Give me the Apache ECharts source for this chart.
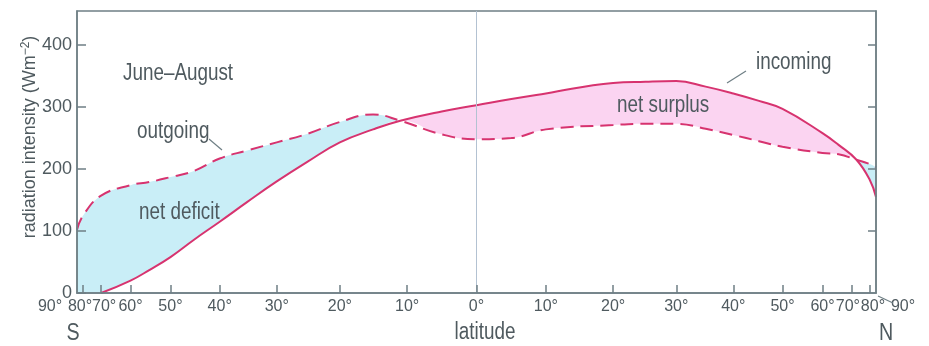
<!DOCTYPE html>
<html>
<head>
<meta charset="utf-8">
<script src="https://cdn.jsdelivr.net/npm/echarts@6/dist/echarts.min.js"></script>
<style>
  html, body { margin: 0; padding: 0; background: #ffffff; }
  #chart { width: 929px; height: 346px; }
</style>
</head>
<body>
<div id="chart"></div>
<script>
// Latitudes (degrees; negative = south) at which the two radiation curves are given
const latitudes = [-90, -80, -70, -60, -55, -50, -45, -40, -35, -30, -25, -20, -15, -11, -5, 0, 5, 10, 20, 25, 30, 35, 40, 45, 50, 60, 65, 72, 80, 90];
// Absorbed solar radiation, W m^-2 (none reaches the polar night south of 70°S)
const incoming = [null, null, 0, 20, 37, 58, 86, 115, 147, 180, 212, 243, 264, 278, 293, 303, 313, 322, 339, 341, 342, 333, 322, 310, 297, 258, 239, 215, 182, 155];
// Outgoing long-wave radiation, W m^-2
const outgoing = [102, 125, 157, 174, 179, 187, 197, 217, 230, 243, 257, 276, 288, 278, 256, 248, 250, 264, 271, 273, 273, 265, 255, 245, 236, 226, 224, 215, 208, 203];
// Tick labels along the latitude axis
const tickLatitudes = [-90, -80, -70, -60, -50, -40, -30, -20, -10, 0, 10, 20, 30, 40, 50, 60, 70, 80, 90];
const radiationTicks = [0, 100, 200, 300, 400];

const LINE = '#d7336f';
const DEFICIT = '#c9eef7';
const SURPLUS = '#fbd4f1';
const AXIS = '#6f7f85';
const TEXT = '#4f5a5f';
const SANS = '"Liberation Sans", Arial, sans-serif';
const SMOOTH = 0.45;

// The latitude axis is area-weighted: position = sin(latitude)
const toX = lat => Math.sin(lat * Math.PI / 180);
const toLat = x => Math.round(Math.asin(Math.max(-1, Math.min(1, x))) * 180 / Math.PI);

// Horizontal nudges for crowded labels near the poles (px)
const labelNudge = { '-90': -27, '-80': -3, '-70': 3, '70': -4, '80': 3, '90': 27 };

const incomingLine = latitudes.map((lat, i) => [toX(lat), incoming[i]]);
const outgoingLine = latitudes.map((lat, i) => [toX(lat), outgoing[i]]);
// Lower of the two curves: everything beneath it is neither deficit nor surplus
const lowerLine = latitudes.map((lat, i) => [toX(lat), incoming[i] == null ? null : Math.min(incoming[i], outgoing[i])]);

const richLabels = {};
Object.keys(labelNudge).forEach(k => {
  const d = labelNudge[k];
  richLabels['n' + k.replace('-', 'm')] = {
    fontFamily: SANS, fontSize: 16, color: TEXT,
    padding: d < 0 ? [0, -2 * d, 0, 0] : [0, 0, 0, 2 * d]
  };
});

const chart = echarts.init(document.getElementById('chart'), null, { renderer: 'canvas' });

const fillCommon = {
  type: 'line', smooth: SMOOTH, symbol: 'none', silent: true, z: 1,
  connectNulls: false, lineStyle: { width: 0, opacity: 0 }
};

chart.setOption({
  animation: false,
  grid: {
    left: 77, right: 53, top: 11, bottom: 53, z: 5,
    show: true, borderColor: AXIS, borderWidth: 1.5, backgroundColor: 'transparent',
    outerBoundsMode: 'none'
  },
  xAxis: {
    type: 'value', min: -1, max: 1, z: 5,
    axisLine: { show: true, onZero: false, lineStyle: { color: AXIS, width: 1.5 } },
    axisTick: {
      show: true, inside: true, length: 8,
      customValues: tickLatitudes.filter(l => Math.abs(l) < 90).map(toX),
      lineStyle: { color: AXIS, width: 1.5 }
    },
    axisLabel: {
      show: true, margin: 6,
      customValues: tickLatitudes.map(toX),
      fontFamily: SANS, fontSize: 16, color: TEXT,
      formatter: v => {
        const lat = toLat(v);
        const txt = Math.abs(lat) + '°';
        const key = String(lat);
        return labelNudge[key] !== undefined ? '{n' + key.replace('-', 'm') + '|' + txt + '}' : txt;
      },
      rich: richLabels
    },
    splitLine: { show: false }
  },
  yAxis: [{
    type: 'value', min: 0, max: 455, position: 'left', z: 5,
    axisLine: { show: true, onZero: false, lineStyle: { color: AXIS, width: 1.5 } },
    axisTick: { show: true, inside: true, length: 9, customValues: radiationTicks, lineStyle: { color: AXIS, width: 1.5 } },
    axisLabel: { show: true, margin: 5, customValues: radiationTicks, fontFamily: SANS, fontSize: 18, color: TEXT },
    splitLine: { show: false }
  }, {
    type: 'value', min: 0, max: 455, position: 'right', z: 5,
    axisLine: { show: true, onZero: false, lineStyle: { color: AXIS, width: 1.5 } },
    axisTick: { show: true, inside: true, length: 8, customValues: radiationTicks.slice(1), lineStyle: { color: AXIS, width: 1.5 } },
    axisLabel: { show: false },
    splitLine: { show: false }
  }],
  series: [
    // Layered fills: blue under outgoing, pink under incoming, white under the lower curve
    Object.assign({ name: 'net deficit', data: outgoingLine, areaStyle: { color: DEFICIT, opacity: 1 } }, fillCommon),
    Object.assign({ name: 'net surplus', data: incomingLine, areaStyle: { color: SURPLUS, opacity: 1 } }, fillCommon),
    Object.assign({ name: 'lower', data: lowerLine, areaStyle: { color: '#ffffff', opacity: 1 } }, fillCommon),
    {
      name: 'incoming', type: 'line', data: incomingLine, smooth: SMOOTH, symbol: 'none',
      connectNulls: false, z: 3,
      lineStyle: { color: LINE, width: 2 }
    },
    {
      name: 'outgoing', type: 'line', data: outgoingLine, smooth: SMOOTH, symbol: 'none', z: 3,
      lineStyle: { color: LINE, width: 2, type: [13, 7] },
      markLine: {
        silent: true, symbol: ['none', 'none'], label: { show: false },
        lineStyle: { color: '#b3c2d2', width: 1, type: 'solid' },
        data: [{ xAxis: 0 }]
      }
    }
  ]
});

// Annotations, axis captions and leader lines (condensed lettering)
const txt = (text, x, y, size, align) => ({
  type: 'text', x: x, y: y, scaleX: 0.82, silent: true, z: 10,
  style: {
    text: text, fill: TEXT, font: size + 'px ' + SANS,
    align: align, verticalAlign: 'middle', textAlign: align, textVerticalAlign: 'middle'
  }
});
const seg = (x1, y1, x2, y2) => ({
  type: 'line', silent: true, z: 10,
  shape: { x1: x1, y1: y1, x2: x2, y2: y2 },
  style: { stroke: AXIS, lineWidth: 1.2 }
});

const poleN = chart.convertToPixel({ xAxisIndex: 0, yAxisIndex: 0 }, [1, 0]);

chart.setOption({
  graphic: [
    txt('June–August', 123, 74, 23, 'left'),
    txt('outgoing', 137, 132, 23, 'left'),
    seg(209, 139, 222, 150),
    txt('net deficit', 139, 213, 23, 'left'),
    txt('net surplus', 617, 106, 23, 'left'),
    txt('incoming', 756, 63, 23, 'left'),
    seg(727, 83, 746, 71),
    txt('latitude', 485, 333, 23, 'center'),
    txt('S', 73, 333, 24, 'center'),
    txt('N', 886, 333, 24, 'center'),
    seg(poleN[0] + 2, poleN[1] + 3, poleN[0] + 17, poleN[1] + 10),
    {
      type: 'text', x: 30, y: 137, rotation: Math.PI / 2, silent: true, z: 10,
      style: {
        text: 'radiation intensity (Wm{s|−2})',
        fill: TEXT, font: '18px ' + SANS,
        align: 'center', verticalAlign: 'middle', textAlign: 'center', textVerticalAlign: 'middle',
        rich: { s: { fontSize: 12, fontFamily: SANS, fill: TEXT, padding: [0, 0, 9, 0] } }
      }
    }
  ]
});
</script>
</body>
</html>
